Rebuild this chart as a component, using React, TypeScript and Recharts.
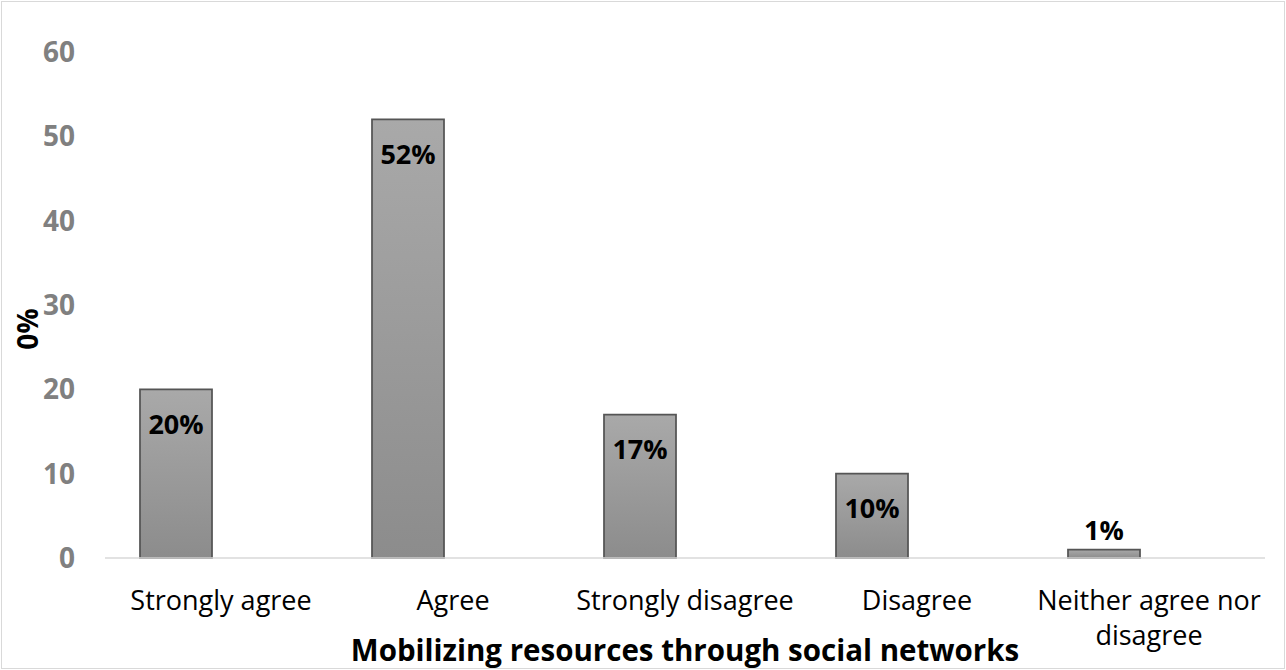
import { Bar, BarChart, LabelList, XAxis, YAxis } from "recharts";

const CATEGORIAS = ["Strongly agree", "Agree", "Strongly disagree", "Disagree", "Neither agree nor disagree"];
const VALORES = [20, 52, 17, 10, 1];
const ROTULOS = ["20%", "52%", "17%", "10%", "1%"];
const TICKS_Y = [0, 10, 20, 30, 40, 50, 60];

const FONTE = "'Open Sans', sans-serif";
const CINZA_EIXO = "#d9d9d9";
const MAX_CARACTERES = 18;

const dados = CATEGORIAS.map((c, i) => ({ categoria: c, valor: VALORES[i], rotulo: ROTULOS[i] }));

// quebra simples por palavras, como o Excel faz no eixo de categorias
function quebrar(texto: string) {
  const linhas: string[] = [];
  let atual = "";
  for (const p of texto.split(" ")) {
    const tentativa = atual ? atual + " " + p : p;
    if (tentativa.length > MAX_CARACTERES && atual) {
      linhas.push(atual);
      atual = p;
    } else {
      atual = tentativa;
    }
  }
  if (atual) linhas.push(atual);
  return linhas;
}

function TickCategoria(props: any) {
  const { x, y, payload } = props;
  const linhas = quebrar(String(payload.value));
  return (
    <text
      x={x}
      y={y}
      textAnchor="middle"
      style={{ fontFamily: FONTE, fontSize: 27, fill: "#000" }}
    >
      {linhas.map((l, i) => (
        <tspan key={i} x={x} dy={i === 0 ? "0.71em" : 35}>
          {l}
        </tspan>
      ))}
    </text>
  );
}

function RotuloBarra(props: any) {
  const { x, y, width, height, index } = props;
  const dentro = height > 50;
  return (
    <text
      x={x + width / 2}
      y={dentro ? y + 34 : y - 20}
      textAnchor="middle"
      dominantBaseline="central"
      style={{ fontFamily: FONTE, fontSize: 27, fontWeight: 700, fill: "#000" }}
    >
      {ROTULOS[index]}
    </text>
  );
}

function TituloY(props: any) {
  const vb = props.viewBox;
  const cy = vb.y + vb.height / 2 + 24;
  return (
    <text
      x={27}
      y={cy}
      transform={`rotate(-90 27 ${cy})`}
      textAnchor="middle"
      dominantBaseline="central"
      style={{ fontFamily: FONTE, fontSize: 28, fontWeight: 700, fill: "#000" }}
    >
      0%
    </text>
  );
}

export default function App() {
  return (
    <div style={{ position: "absolute", left: 0, top: 0, width: 1286, height: 670, background: "#fff" }}>
      <BarChart
        width={1286}
        height={670}
        data={dados}
        margin={{ top: 52, right: 21, left: 0, bottom: 0 }}
        barSize={72}
        barGap={18}
      >
        <defs>
          <linearGradient id="cinzaBarra" x1="0" y1="0" x2="0" y2="1">
            <stop offset="0%" stopColor="#a9a9a9" />
            <stop offset="100%" stopColor="#8c8c8c" />
          </linearGradient>
        </defs>
        <XAxis
          dataKey="categoria"
          height={112}
          tickLine={false}
          tickSize={0}
          tickMargin={33}
          interval={0}
          axisLine={{ stroke: CINZA_EIXO, strokeWidth: 1.5 }}
          tick={<TickCategoria />}
          label={{
            value: "Mobilizing resources through social networks",
            position: "insideBottom",
            offset: 9,
            style: { fontFamily: FONTE, fontSize: 29.5, fontWeight: 700, fill: "#000" },
          }}
        />
        <YAxis
          width={105}
          domain={[0, 60]}
          ticks={TICKS_Y}
          axisLine={false}
          tickLine={false}
          tickSize={0}
          tickMargin={30}
          tick={{ fontFamily: FONTE, fontSize: 28, fontWeight: 700, fill: "#808080" }}
          label={<TituloY />}
        />
        <Bar dataKey="valor" fill="url(#cinzaBarra)" stroke="#555555" strokeWidth={1.75} isAnimationActive={false}>
          <LabelList dataKey="rotulo" content={<RotuloBarra />} />
        </Bar>
        <Bar dataKey="vazio" fill="none" isAnimationActive={false} />
      </BarChart>
      <div
        style={{
          position: "absolute",
          left: 1,
          top: 1,
          width: 1284,
          height: 668,
          boxSizing: "border-box",
          border: `1.5px solid ${CINZA_EIXO}`,
          pointerEvents: "none",
        }}
      />
    </div>
  );
}
